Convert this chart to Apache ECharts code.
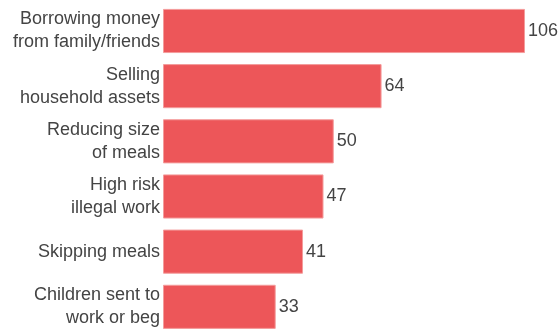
<!DOCTYPE html>
<html>
<head>
<meta charset="utf-8">
<script src="https://cdn.jsdelivr.net/npm/echarts@6/dist/echarts.min.js"></script>
<style>
  html, body { margin: 0; padding: 0; background: #fff; }
  #chart { width: 558px; height: 330px; }
</style>
</head>
<body>
<div id="chart"></div>
<script>
// coping strategies, count of households
const categories = [
    'Borrowing money\nfrom family/friends',
    'Selling\nhousehold assets',
    'Reducing size\nof meals',
    'High risk\nillegal work',
    'Skipping meals',
    'Children sent to\nwork or beg'
]
const counts = [106, 64, 50, 47, 41, 33]

const chart = echarts.init(document.getElementById('chart'))

const option = {
    animation: false,
    grid: {
        left: 163,
        right: 33,
        top: 3.4,
        height: 331,
        outerBoundsMode: 'none'
    },
    xAxis: {
        type: 'value',
        min: 0,
        max: 106,
        show: false
    },
    yAxis: {
        type: 'category',
        inverse: true,
        data: categories,
        axisLine: { show: false },
        axisTick: { show: false },
        axisLabel: {
            fontFamily: 'Liberation Sans',
            fontSize: 18,
            lineHeight: 23,
            color: '#444',
            margin: 3,
            align: 'right'
        }
    },
    series: [
        {
            type: 'bar',
            data: counts,
            barCategoryGap: '20%',
            itemStyle: {
                color: '#ED5659',
                borderColor: '#F49C9C',
                borderWidth: 1
            },
            label: {
                show: true,
                position: 'right',
                distance: 3,
                fontFamily: 'Liberation Sans',
                fontSize: 18,
                color: '#444'
            }
        }
    ]
}

chart.setOption(option)
</script>
</body>
</html>
